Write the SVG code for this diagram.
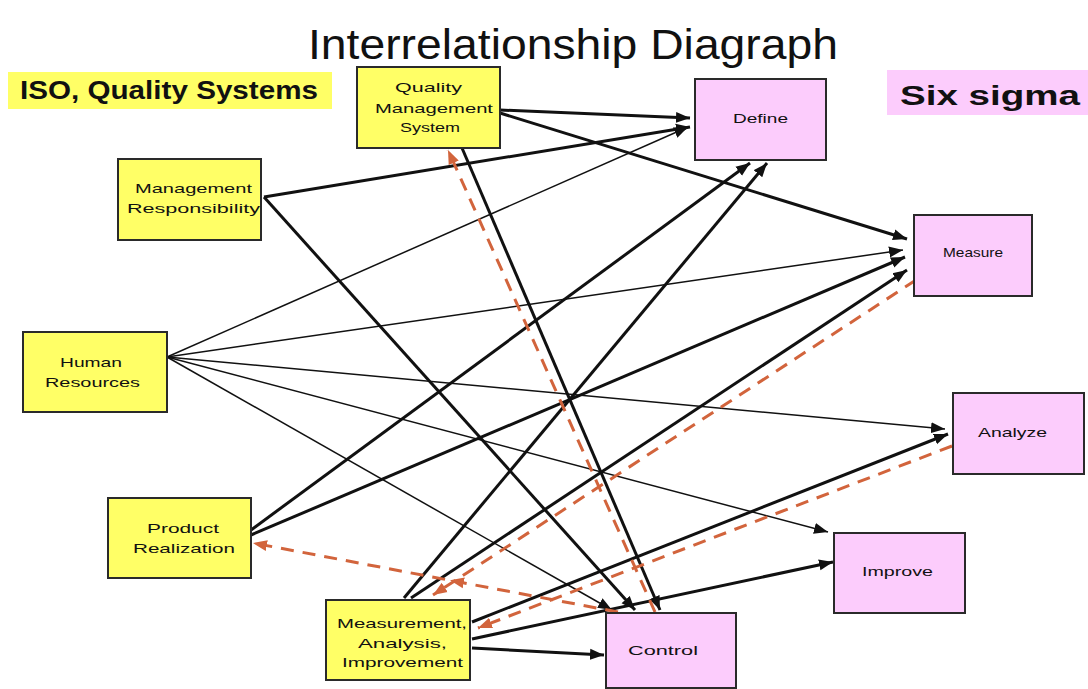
<svg xmlns="http://www.w3.org/2000/svg" width="1088" height="689" viewBox="0 0 1088 689">
<defs>
<style>
.node rect{stroke:#2a2a2a;stroke-width:2}
.iso rect{fill:#FFFF66}
.six rect{fill:#FCCCFC}
.nt{font-family:"Liberation Sans",Arial,sans-serif;font-size:13px;fill:#111;lengthAdjust:spacingAndGlyphs}
.thick{stroke:#111;stroke-width:3;fill:none;marker-end:url(#ab)}
.thin{stroke:#111;stroke-width:1.5;fill:none;marker-end:url(#ab)}
.dash{stroke:#D2643C;stroke-width:3;fill:none;stroke-dasharray:13 9;marker-end:url(#ao)}
</style>
<marker id="ab" markerUnits="userSpaceOnUse" markerWidth="16" markerHeight="12" refX="14" refY="6" orient="auto">
<path d="M0,0.5 L14,6 L0,11.5 Z" fill="#111"/>
</marker>
<marker id="ao" markerUnits="userSpaceOnUse" markerWidth="16" markerHeight="12" refX="14" refY="6" orient="auto">
<path d="M0,0.5 L14,6 L0,11.5 Z" fill="#D2643C"/>
</marker>
</defs>
<rect width="1088" height="689" fill="#fff"/>
<text x="308" y="59" font-family="Liberation Sans,Arial,sans-serif" font-size="43" fill="#111" textLength="530" lengthAdjust="spacingAndGlyphs">Interrelationship Diagraph</text>
<g id="label-iso">
<rect x="8" y="72" width="324" height="37" fill="#FFFF66"/>
<text x="20" y="99" font-family="Liberation Sans,Arial,sans-serif" font-weight="bold" font-size="25" fill="#111" textLength="298" lengthAdjust="spacingAndGlyphs">ISO, Quality Systems</text>
</g>
<g id="label-six">
<rect x="887" y="70" width="201" height="45" fill="#FCCCFC"/>
<text x="900" y="105" font-family="Liberation Sans,Arial,sans-serif" font-weight="bold" font-size="28" fill="#111" textLength="180" lengthAdjust="spacingAndGlyphs">Six sigma</text>
</g>
<g id="connectors">
<line class="thick" x1="500" y1="110" x2="690" y2="118"/>
<line class="thick" x1="500" y1="113" x2="907" y2="239"/>
<line class="thick" x1="462" y1="148" x2="660" y2="610"/>
<line class="thick" x1="264" y1="197" x2="690" y2="127"/>
<line class="thick" x1="264" y1="197" x2="635" y2="610"/>
<line class="thick" x1="251" y1="530" x2="750" y2="163"/>
<line class="thick" x1="251" y1="535" x2="905" y2="257"/>
<line class="thick" x1="404" y1="598" x2="767" y2="163"/>
<line class="thick" x1="411" y1="598" x2="907" y2="270"/>
<line class="thick" x1="472" y1="622" x2="948" y2="434"/>
<line class="thick" x1="472" y1="639" x2="833" y2="562"/>
<line class="thick" x1="472" y1="648" x2="604" y2="655"/>
<line class="thin" x1="167" y1="357" x2="688" y2="127"/>
<line class="thin" x1="167" y1="357" x2="903" y2="250"/>
<line class="thin" x1="167" y1="357" x2="945" y2="429"/>
<line class="thin" x1="167" y1="357" x2="828" y2="532"/>
<line class="thin" x1="167" y1="357" x2="612" y2="610"/>
<line class="dash" x1="655" y1="612" x2="448" y2="150"/>
<line class="dash" x1="952" y1="446" x2="478" y2="628"/>
<line class="dash" x1="916" y1="280" x2="433" y2="595"/>
<path class="dash" d="M618,612 L450,580.3 L253,543" marker-mid="url(#ao)"/>
</g>
<g id="n-qms" class="node iso">
<rect x="357" y="67" width="143" height="81"/>
<text class="nt" x="395" y="92" textLength="67" lengthAdjust="spacingAndGlyphs">Quality</text>
<text class="nt" x="375" y="113" textLength="118" lengthAdjust="spacingAndGlyphs">Management</text>
<text class="nt" x="400" y="132" textLength="60" lengthAdjust="spacingAndGlyphs">System</text>
</g>
<g id="n-mr" class="node iso">
<rect x="118" y="159" width="143" height="81"/>
<text class="nt" x="135" y="193" textLength="117" lengthAdjust="spacingAndGlyphs">Management</text>
<text class="nt" x="127" y="213" textLength="133" lengthAdjust="spacingAndGlyphs">Responsibility</text>
</g>
<g id="n-hr" class="node iso">
<rect x="23" y="332" width="144" height="80"/>
<text class="nt" x="60" y="367" textLength="62" lengthAdjust="spacingAndGlyphs">Human</text>
<text class="nt" x="45" y="387" textLength="95" lengthAdjust="spacingAndGlyphs">Resources</text>
</g>
<g id="n-pr" class="node iso">
<rect x="108" y="498" width="143" height="80"/>
<text class="nt" x="147" y="533" textLength="72" lengthAdjust="spacingAndGlyphs">Product</text>
<text class="nt" x="133" y="553" textLength="102" lengthAdjust="spacingAndGlyphs">Realization</text>
</g>
<g id="n-mai" class="node iso">
<rect x="326" y="600" width="144" height="80"/>
<text class="nt" x="337" y="628" textLength="130" lengthAdjust="spacingAndGlyphs">Measurement,</text>
<text class="nt" x="358" y="648" textLength="89" lengthAdjust="spacingAndGlyphs">Analysis,</text>
<text class="nt" x="342" y="667" textLength="121" lengthAdjust="spacingAndGlyphs">Improvement</text>
</g>
<g id="n-define" class="node six">
<rect x="695" y="79" width="131" height="81"/>
<text class="nt" x="733" y="123" textLength="55" lengthAdjust="spacingAndGlyphs">Define</text>
</g>
<g id="n-measure" class="node six">
<rect x="914" y="215" width="118" height="81"/>
<text class="nt" x="943" y="257" textLength="60" lengthAdjust="spacingAndGlyphs">Measure</text>
</g>
<g id="n-analyze" class="node six">
<rect x="953" y="393" width="131" height="81"/>
<text class="nt" x="978" y="437" textLength="69" lengthAdjust="spacingAndGlyphs">Analyze</text>
</g>
<g id="n-improve" class="node six">
<rect x="834" y="533" width="131" height="80"/>
<text class="nt" x="862" y="576" textLength="71" lengthAdjust="spacingAndGlyphs">Improve</text>
</g>
<g id="n-control" class="node six">
<rect x="606" y="613" width="130" height="75"/>
<text class="nt" x="628" y="655" textLength="70" lengthAdjust="spacingAndGlyphs">Control</text>
</g>
</svg>
